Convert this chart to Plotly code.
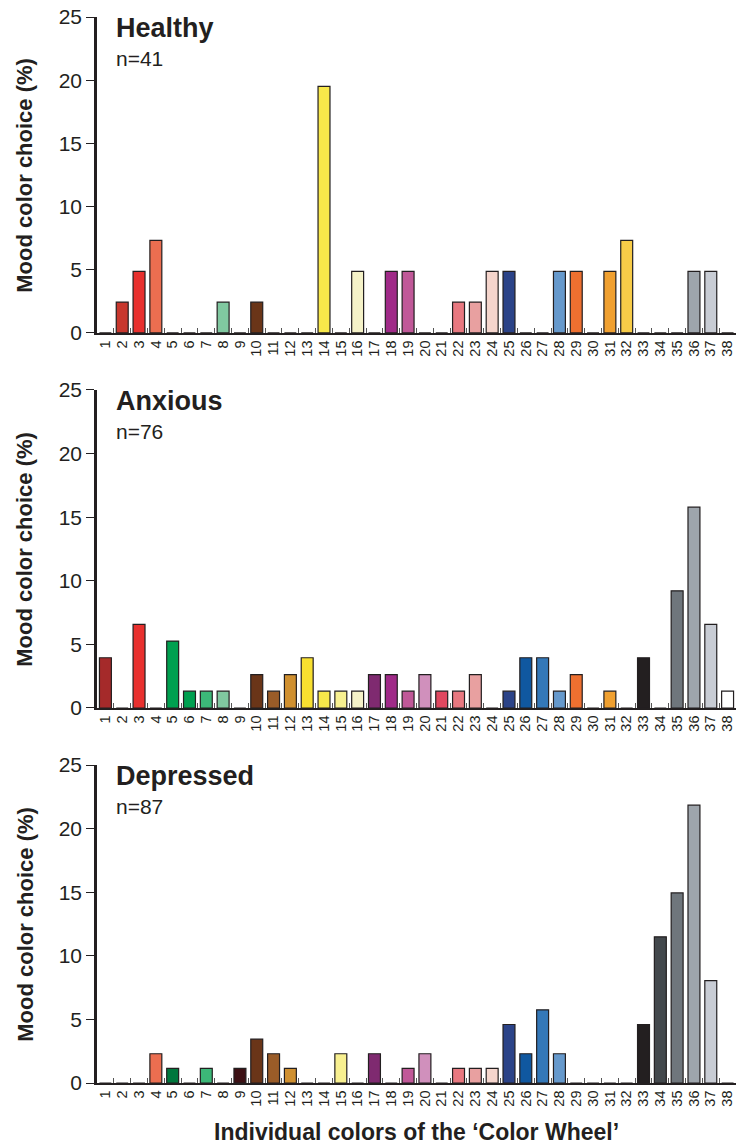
import plotly.graph_objects as go

# ---------------- data ----------------
color_ids = [str(i) for i in range(1, 39)]

healthy = [0, 2.44, 4.88, 7.32, 0, 0, 0, 2.44, 0, 2.44,
           0, 0, 0, 19.51, 0, 4.88, 0, 4.88, 4.88, 0,
           0, 2.44, 2.44, 4.88, 4.88, 0, 0, 4.88, 4.88, 0,
           4.88, 7.32, 0, 0, 0, 4.88, 4.88, 0]

anxious = [3.95, 0, 6.58, 0, 5.26, 1.32, 1.32, 1.32, 0, 2.63,
           1.32, 2.63, 3.95, 1.32, 1.32, 1.32, 2.63, 2.63, 1.32, 2.63,
           1.32, 1.32, 2.63, 0, 1.32, 3.95, 3.95, 1.32, 2.63, 0,
           1.32, 0, 3.95, 0, 9.21, 15.79, 6.58, 1.32]

depressed = [0, 0, 0, 2.30, 1.15, 0, 1.15, 0, 1.15, 3.45,
             2.30, 1.15, 0, 0, 2.30, 0, 2.30, 0, 1.15, 2.30,
             0, 1.15, 1.15, 1.15, 4.60, 2.30, 5.75, 2.30, 0, 0,
             0, 0, 4.60, 11.49, 14.94, 21.84, 8.05, 0]

panel_names = ["Healthy", "Anxious", "Depressed"]
panel_n = ["n=41", "n=76", "n=87"]
y_tick_vals = [0, 5, 10, 15, 20, 25]
y_title = "Mood color choice (%)"
x_title = "Individual colors of the \u2018Color Wheel\u2019"

# ---------------- styles ----------------
wheel_colors = [
    "#a52a2a", "#c8372d", "#e8302e", "#eb6e50", "#00a050", "#00a050",
    "#3cb878", "#80c8a0", "#3c1014", "#6a3518", "#9a5c28", "#d09030",
    "#f8e030", "#f8e84a", "#f8f090", "#f5f2c8", "#7f2a70", "#a02a88",
    "#c05898", "#d090bc", "#e04860", "#e87880", "#e8a0a0", "#f5d5cc",
    "#2b4388", "#1058a0", "#3478b8", "#6699cc", "#ee7030", "#f0a030",
    "#f0a030", "#f8cc48", "#231f20", "#43484c", "#6f767c", "#9ea5ac",
    "#c8ccd4", "#ffffff",
]
depressed_colors = list(wheel_colors)
depressed_colors[4] = "#00773d"
panel_colors = [wheel_colors, wheel_colors, depressed_colors]
panel_values = [healthy, anxious, depressed]

# plot area in pixels: top margin 17, bottom 61 -> height 1066
domains = [[0.7036, 1.0], [0.3518, 0.6501], [0.0, 0.2983]]

ink = "#231f20"
font_family = "Liberation Sans, Arial, Helvetica, sans-serif"

fig = go.Figure()
annotations = []
for i in range(3):
    sfx = "" if i == 0 else str(i + 1)
    fig.add_trace(go.Bar(
        x=color_ids, y=panel_values[i],
        marker=dict(color=panel_colors[i], line=dict(color=ink, width=1.2)),
        xaxis="x" + sfx, yaxis="y" + sfx, showlegend=False,
    ))
    fig.layout["xaxis" + sfx] = dict(
        type="category", domain=[0, 1], anchor="y" + sfx,
        range=[-0.5, 37.5], tickangle=-90, ticks="inside", ticklen=5,
        tickmode="array", tickvals=color_ids, ticktext=color_ids,
        tickwidth=1, tickcolor="#555555", tickson="boundaries",
        showline=True, linecolor=ink, linewidth=1.5,
        showgrid=False, zeroline=False, fixedrange=True,
        tickfont=dict(size=14.5, color=ink, family=font_family),
    )
    fig.layout["yaxis" + sfx] = dict(
        domain=domains[i], anchor="x" + sfx, range=[0, 25],
        tickvals=y_tick_vals, ticks="outside", ticklen=8, tickwidth=1,
        tickcolor=ink, showline=True, linecolor=ink, linewidth=2.5,
        showgrid=False, zeroline=False,
        tickfont=dict(size=21, color=ink, family=font_family),
    )
    annotations.append(dict(
        text="<b>" + panel_names[i] + "</b>", xref="x" + sfx + " domain",
        yref="y" + sfx + " domain", x=0.027, y=0.964, xanchor="left",
        yanchor="middle", showarrow=False,
        font=dict(size=27, color=ink, family=font_family),
    ))
    annotations.append(dict(
        text=panel_n[i], xref="x" + sfx + " domain",
        yref="y" + sfx + " domain", x=0.027, y=0.869, xanchor="left",
        yanchor="middle", showarrow=False,
        font=dict(size=21, color=ink, family=font_family),
    ))
    annotations.append(dict(
        text="<b>" + y_title + "</b>", xref="paper", yref="paper",
        x=-0.113, y=(domains[i][0] + domains[i][1]) / 2, xanchor="center",
        yanchor="middle", textangle=-90, showarrow=False,
        font=dict(size=22, color=ink, family=font_family),
    ))

annotations.append(dict(
    text="<b>" + x_title + "</b>", xref="paper", yref="paper",
    x=0.5, y=-0.046, xanchor="center", yanchor="middle", showarrow=False,
    font=dict(size=23, color=ink, family=font_family),
))

fig.update_layout(
    width=736, height=1144,
    margin=dict(l=97, r=0, t=17, b=61),
    paper_bgcolor="white", plot_bgcolor="white",
    bargap=0.29, annotations=annotations,
    font=dict(family=font_family, color=ink),
)

fig.write_html("out.html")
